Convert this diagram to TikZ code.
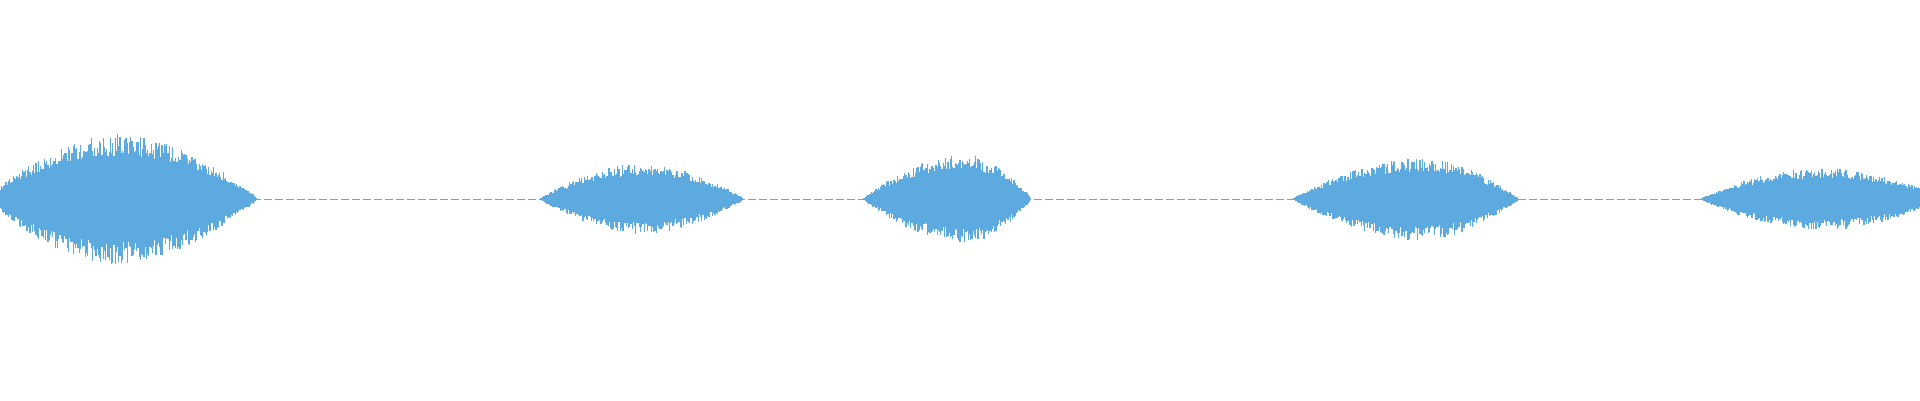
\documentclass[tikz,border=0pt]{standalone}
\definecolor{wave}{RGB}{93,170,224}
\tikzset{every picture/.style={line width=0.75pt}}
\begin{document}
\begin{tikzpicture}[x=1pt,y=1pt,yscale=-1]
	\useasboundingbox (0,0) rectangle (1920,400);
	\clip (0,0) rectangle (1920,400);
	\pgfmathsetseed{7}
	%Baseline
	\draw [wave,line width=0.5pt,dash pattern=on 8pt off 3pt] (0,199) -- (1920,199);
	%Blobs
	\foreach \xa/\xp/\xb/\amp in {-12/116/257/64, 541/640/743/34, 864/965/1031/43, 1294/1420/1518/40, 1702/1820/1945/30}{
		\pgfmathsetmacro{\xn}{\xa+1.2}
		\foreach \x in {\xa,\xn,...,\xb}{
			\pgfmathsetmacro{\env}{\amp*max(0.001,ifthenelse(\x<\xp, sin(90/(\xp-\xa)*(\x-\xa)), cos(90/(\xb-\xp)*(\x-\xp))))^0.9}
			\pgfmathsetmacro{\hu}{\env*(0.65+0.35*rnd)+1}
			\pgfmathsetmacro{\hd}{\env*(0.65+0.35*rnd)+1}
			\draw [wave,line width=1.3pt] (\x,199-\hu) -- (\x,199+\hd);
		}
	}
\end{tikzpicture}
\end{document}
